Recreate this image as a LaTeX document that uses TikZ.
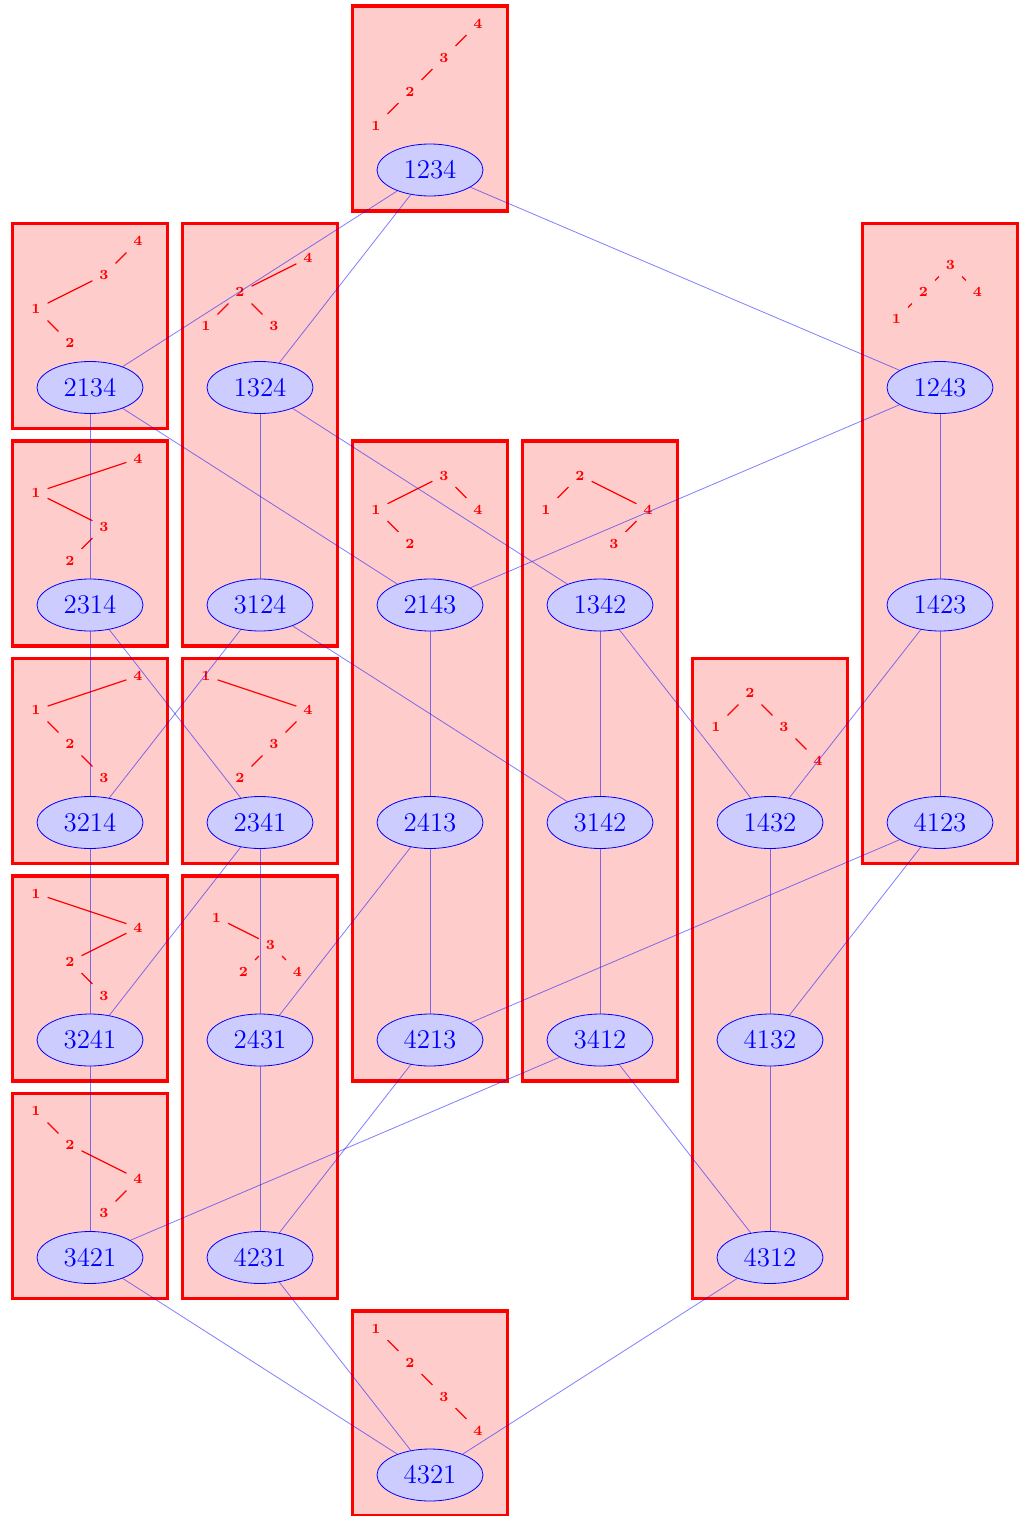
\documentclass[tikz,border=0pt]{standalone}
\usepackage{tikz}
\usetikzlibrary{shapes.geometric,backgrounds}

% binary search tree drawn above the top permutation of a class
\newcommand{\bst}[5]{%
  \begin{scope}[shift={(p#1)}, xshift=-1.5pt, yshift=47.75pt, x=#2, y=-#2]
    \foreach \k/\d in {#4}
      \node[lab] (t#1\k) at (\k-2.5, \d-#3/2) {\k};
    \foreach \a/\b in {#5}
      \draw[tedge] (t#1\a) -- (t#1\b);
  \end{scope}
}

\begin{document}
\begin{tikzpicture}[x=85pt, y=-108.75pt,
  perm/.style={ellipse, draw=blue, fill=blue!20, text=blue, minimum width=53pt, minimum height=26pt, font=\fontsize{13.5}{16}\selectfont},
  lab/.style={text=red, font=\scriptsize\bfseries},
  tedge/.style={red, semithick},
  cover/.style={blue, opacity=.5},
  classbox/.style={draw=red, fill=red!20, ultra thick}]
  \useasboundingbox (-45pt,85pt) rectangle (465.5pt,-673pt);
  \foreach \p/\i/\j in {1234/2/0,
      2134/0/1, 1324/1/1, 1243/5/1,
      2314/0/2, 3124/1/2, 2143/2/2, 1342/3/2, 1423/5/2,
      3214/0/3, 2341/1/3, 2413/2/3, 3142/3/3, 1432/4/3, 4123/5/3,
      3241/0/4, 2431/1/4, 4213/2/4, 3412/3/4, 4132/4/4,
      3421/0/5, 4231/1/5, 4312/4/5,
      4321/2/6}
    \node[perm] (p\p) at (\i,\j) {\p};
  % trees
  \bst{1234}{17pt}{3}{4/0,3/1,2/2,1/3}{4/3,3/2,2/1}
  \bst{2134}{17pt}{3}{4/0,3/1,1/2,2/3}{4/3,3/1,1/2}
  \bst{1324}{17pt}{2}{4/0,2/1,1/2,3/2}{4/2,2/1,2/3}
  \bst{1243}{13.5pt}{2}{3/0,2/1,4/1,1/2}{3/2,3/4,2/1}
  \bst{2314}{17pt}{3}{4/0,1/1,3/2,2/3}{4/1,1/3,3/2}
  \bst{2143}{17pt}{2}{3/0,1/1,4/1,2/2}{3/1,3/4,1/2}
  \bst{1342}{17pt}{2}{2/0,1/1,4/1,3/2}{2/1,2/4,4/3}
  \bst{3214}{17pt}{3}{4/0,1/1,2/2,3/3}{4/1,1/2,2/3}
  \bst{2341}{17pt}{3}{1/0,4/1,3/2,2/3}{1/4,4/3,3/2}
  \bst{1432}{17pt}{2}{2/0,1/1,3/1,4/2}{2/1,2/3,3/4}
  \bst{3241}{17pt}{3}{1/0,4/1,2/2,3/3}{1/4,4/2,2/3}
  \bst{2431}{13.5pt}{2}{1/0,3/1,2/2,4/2}{1/3,3/2,3/4}
  \bst{3421}{17pt}{3}{1/0,2/1,4/2,3/3}{1/2,2/4,4/3}
  \bst{4321}{17pt}{3}{1/0,2/1,3/2,4/3}{1/2,2/3,3/4}
  % classes
  \begin{scope}[on background layer]
    \foreach \a/\b in {1234/1234, 2134/2134, 1324/3124, 1243/4123, 2314/2314,
        2143/4213, 1342/3412, 3214/3214, 2341/2341, 1432/4312,
        3241/3241, 2431/4231, 3421/3421, 4321/4321}
      \draw[classbox] ([shift={(-38.75pt,82pt)}]p\a.center) rectangle ([shift={(38.75pt,-20.5pt)}]p\b.center);
  \end{scope}
  % cover relations
  \foreach \a/\b in {1234/2134, 1234/1324, 1234/1243,
      2134/2314, 2134/2143, 1324/3124, 1324/1342, 1243/2143, 1243/1423,
      2314/3214, 2314/2341, 3124/3214, 3124/3142, 2143/2413,
      1342/3142, 1342/1432, 1423/4123, 1423/1432,
      3214/3241, 2341/3241, 2341/2431, 2413/4213, 2413/2431,
      3142/3412, 1432/4132, 4123/4213, 4123/4132,
      3241/3421, 2431/4231, 4213/4231, 3412/3421, 3412/4312, 4132/4312,
      3421/4321, 4231/4321, 4312/4321}
    \draw[cover] (p\a) -- (p\b);
\end{tikzpicture}
\end{document}
